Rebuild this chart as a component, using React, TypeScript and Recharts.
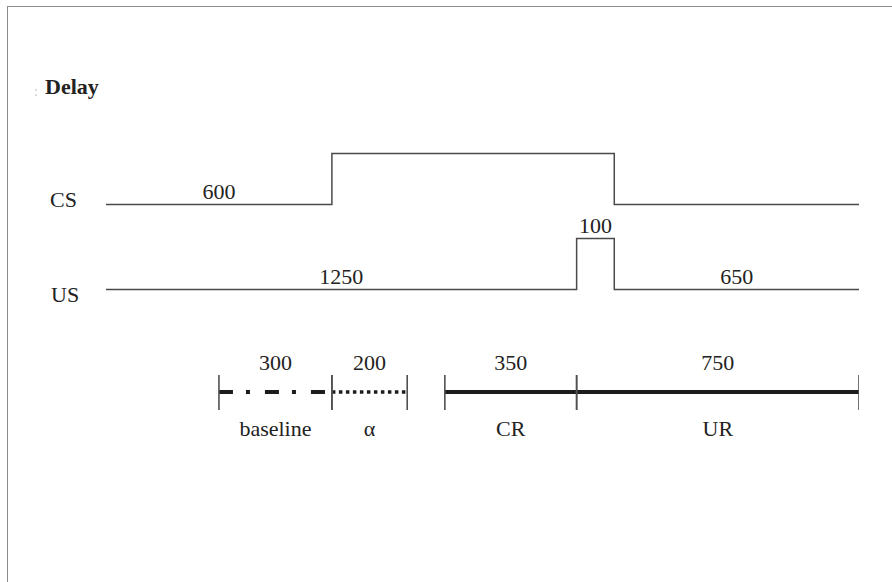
import React from 'react'
import { LineChart, Line, XAxis, YAxis, ReferenceDot } from 'recharts'

// stimulus traces (time in ms, level 0 = off, 1 = on), drawn as steps
const csTimes = [0, 600, 1350, 2000]
const csLevels = [0, 1, 0, 0]
const usTimes = [0, 1250, 1350, 2000]
const usLevels = [0, 1, 0, 0]

// durations written above the traces
const csSpanStart = [0]
const csSpanEnd = [600]
const usSpanStart = [0, 1250, 1350]
const usSpanEnd = [1250, 1350, 2000]

// analysis windows under the traces
const windowNames = ['baseline', 'α', 'CR', 'UR']
const windowStart = [300, 600, 900, 1250]
const windowEnd = [600, 800, 1250, 2000]

const W = 892
const H = 582
const CS_Y = 204.5
const US_Y = 289.5
const PULSE = 51
const BAR_Y = 392
const FONT = '"Liberation Serif", "Times New Roman", serif'
const INK = '#222'
const TRACE = '#4a4a4a'

const windowStroke: Record<string, { dash?: string; width: number }> = {
  baseline: { dash: '14 13 4 15', width: 4 },
  'α': { dash: '3.5 3.5', width: 3.5 },
  CR: { width: 4 },
  UR: { width: 4 },
}

const trace = (times: number[], levels: number[], base: number) =>
  times.map((t, i) => ({ t, y: base - levels[i] * PULSE }))

// level of a trace at time t (last change at or before t)
const levelAt = (times: number[], levels: number[], t: number) => {
  let lv = levels[0]
  times.forEach((tt, i) => {
    if (tt <= t) lv = levels[i]
  })
  return lv
}

const spanLabels = (
  starts: number[],
  ends: number[],
  times: number[],
  levels: number[],
  base: number,
) =>
  starts.map((s, i) => ({
    x: (s + ends[i]) / 2,
    y: base - levelAt(times, levels, s) * PULSE,
    text: String(ends[i] - s),
  }))

const csData = trace(csTimes, csLevels, CS_Y)
const usData = trace(usTimes, usLevels, US_Y)
const spanText = [
  ...spanLabels(csSpanStart, csSpanEnd, csTimes, csLevels, CS_Y),
  ...spanLabels(usSpanStart, usSpanEnd, usTimes, usLevels, US_Y),
]

const textShape = (label: string, dy: number) => (p: any) => (
  <text
    x={p.cx}
    y={p.cy + dy}
    textAnchor="middle"
    fontFamily={FONT}
    fontSize={22}
    fill={INK}
  >
    {label}
  </text>
)

const tickDot = (name: string) => (p: any) => (
  <line
    key={`${name}-${p.index}`}
    x1={p.cx}
    x2={p.cx}
    y1={p.cy - 17}
    y2={p.cy + 18}
    stroke="#505050"
    strokeWidth={1.6}
  />
)

const sideLabel = (text: string, left: number, baseline: number, bold = false) => (
  <div
    style={{
      position: 'absolute',
      left,
      top: baseline - 18.4,
      fontFamily: FONT,
      fontSize: 22,
      lineHeight: '22px',
      fontWeight: bold ? 700 : 400,
      color: INK,
      whiteSpace: 'nowrap',
    }}
  >
    {text}
  </div>
)

export default function App() {
  return (
    <div style={{ position: 'absolute', left: 0, top: 0, width: W, height: H, background: '#fff', overflow: 'hidden' }}>
      <div
        style={{
          position: 'absolute',
          left: 7,
          top: 6,
          width: W - 7,
          height: H - 6,
          borderTop: '1.5px solid #8c8c8c',
          borderLeft: '1.5px solid #8c8c8c',
          boxSizing: 'border-box',
        }}
      />
      <div style={{ position: 'absolute', left: 34, top: 84, fontFamily: FONT, fontSize: 14, color: '#c8c8c8' }}>:</div>
      {sideLabel('Delay', 45, 94.5, true)}
      {sideLabel('CS', 50, 207)}
      {sideLabel('US', 51, 302)}
      <div style={{ position: 'absolute', left: 0, top: 0 }}>
        <LineChart width={W} height={H} margin={{ top: 0, right: W - 859, bottom: 0, left: 106 }}>
          <XAxis type="number" dataKey="t" domain={[0, 2000]} hide allowDataOverflow />
          <YAxis type="number" domain={[0, H]} reversed hide allowDataOverflow />
          <Line
            data={csData}
            dataKey="y"
            type="stepAfter"
            stroke={TRACE}
            strokeWidth={1.5}
            dot={false}
            isAnimationActive={false}
          />
          <Line
            data={usData}
            dataKey="y"
            type="stepAfter"
            stroke={TRACE}
            strokeWidth={1.5}
            dot={false}
            isAnimationActive={false}
          />
          {windowNames.map((name, i) => (
            <Line
              key={name}
              data={[
                { t: windowStart[i], y: BAR_Y },
                { t: windowEnd[i], y: BAR_Y },
              ]}
              dataKey="y"
              type="linear"
              stroke="#1c1c1c"
              strokeWidth={windowStroke[name].width}
              strokeDasharray={windowStroke[name].dash}
              strokeLinecap="butt"
              dot={tickDot(name)}
              activeDot={false}
              isAnimationActive={false}
            />
          ))}
          {spanText.map((s, i) => (
            <ReferenceDot
              key={`span-${i}`}
              x={s.x}
              y={s.y}
              r={0}
              ifOverflow="visible"
              shape={textShape(s.text, -6)}
            />
          ))}
          {windowNames.map((name, i) => (
            <ReferenceDot
              key={`dur-${name}`}
              x={(windowStart[i] + windowEnd[i]) / 2}
              y={BAR_Y}
              r={0}
              ifOverflow="visible"
              shape={textShape(String(windowEnd[i] - windowStart[i]), -22.5)}
            />
          ))}
          {windowNames.map((name, i) => (
            <ReferenceDot
              key={`name-${name}`}
              x={(windowStart[i] + windowEnd[i]) / 2}
              y={BAR_Y}
              r={0}
              ifOverflow="visible"
              shape={textShape(name, 44)}
            />
          ))}
        </LineChart>
      </div>
    </div>
  )
}
